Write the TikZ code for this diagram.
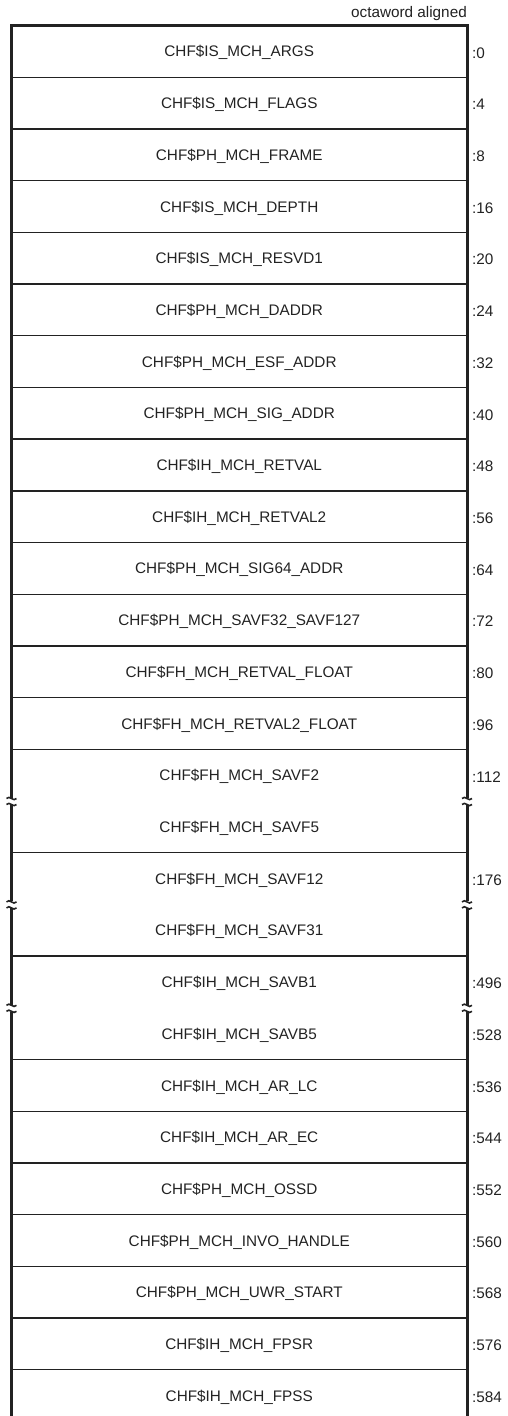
\documentclass[tikz,border=0pt]{standalone}
\usepackage{fontspec}
\setmainfont{Liberation Sans}
\definecolor{ink}{HTML}{222222}
\begin{document}
\begin{tikzpicture}[x=1pt,y=-1pt,
  frame/.style={draw=ink,line width=3pt},
  sep/.style={draw=ink,line width=1.4pt},
  brk/.style={draw=ink,line width=1.6pt},
  fld/.style={inner sep=0pt,text=ink,font=\fontsize{15.3}{18}\selectfont},
  off/.style={inner sep=0pt,anchor=west,text=ink,font=\fontsize{15.3}{18}\selectfont}]
\useasboundingbox (0,0) rectangle (507,1416);
\clip (0,0) rectangle (507,1416);
\def\T{25.5}\def\H{51.7}\def\L{11.5}\def\R{467}
% inner separator lines
\foreach \k in {1,...,14,16,18,20,21,...,26}{
  \draw[sep] (\L,\T+\k*\H) -- (\R,\T+\k*\H);
}
% break positions
\pgfmathsetmacro\ba{\T+15*\H}
\pgfmathsetmacro\bb{\T+17*\H}
\pgfmathsetmacro\bc{\T+19*\H}
% frame: top part
\draw[frame] (\L,\ba-3) -- (\L,\T) -- (\R,\T) -- (\R,\ba-3);
% frame middle segments
\foreach \x in {\L,\R}{
  \draw[frame] (\x,\ba+4) -- (\x,\bb-3);
  \draw[frame] (\x,\bb+4) -- (\x,\bc-3);
  \draw[frame] (\x,\bc+4) -- (\x,1430);
  \foreach \b in {\ba,\bb,\bc}{
    \draw[brk] (\x-5,\b-2.5) .. controls (\x-2,\b-6.5) and (\x+2,\b+1.5) .. (\x+5,\b-2.5);
    \draw[brk] (\x-5,\b+3.5) .. controls (\x-2,\b-0.5) and (\x+2,\b+7.5) .. (\x+5,\b+3.5);
  }
}
\node[fld,anchor=base east] (hdr) at (\R,17) {octaword aligned};
% field names
\foreach \n [count=\i from 0] in {
  CHF\$IS\_MCH\_ARGS, CHF\$IS\_MCH\_FLAGS, CHF\$PH\_MCH\_FRAME, CHF\$IS\_MCH\_DEPTH,
  CHF\$IS\_MCH\_RESVD1, CHF\$PH\_MCH\_DADDR, CHF\$PH\_MCH\_ESF\_ADDR, CHF\$PH\_MCH\_SIG\_ADDR,
  CHF\$IH\_MCH\_RETVAL, CHF\$IH\_MCH\_RETVAL2, CHF\$PH\_MCH\_SIG64\_ADDR, CHF\$PH\_MCH\_SAVF32\_SAVF127,
  CHF\$FH\_MCH\_RETVAL\_FLOAT, CHF\$FH\_MCH\_RETVAL2\_FLOAT, CHF\$FH\_MCH\_SAVF2, CHF\$FH\_MCH\_SAVF5,
  CHF\$FH\_MCH\_SAVF12, CHF\$FH\_MCH\_SAVF31, CHF\$IH\_MCH\_SAVB1, CHF\$IH\_MCH\_SAVB5,
  CHF\$IH\_MCH\_AR\_LC, CHF\$IH\_MCH\_AR\_EC, CHF\$PH\_MCH\_OSSD, CHF\$PH\_MCH\_INVO\_HANDLE,
  CHF\$PH\_MCH\_UWR\_START, CHF\$IH\_MCH\_FPSR, CHF\$IH\_MCH\_FPSS}{
  \node[fld] (r\i) at ({(\L+\R)/2},\T+\i*\H+\H/2+1.5) {\n};
}
% offsets
\foreach \o/\i in {0/0,4/1,8/2,16/3,20/4,24/5,32/6,40/7,48/8,56/9,64/10,72/11,80/12,96/13,
  112/14,176/16,496/18,528/19,536/20,544/21,552/22,560/23,568/24,576/25,584/26}{
  \node[off] (o\i) at (\R+5,\T+\i*\H+\H/2+1.5) {:\o};
}
\end{tikzpicture}
\end{document}
